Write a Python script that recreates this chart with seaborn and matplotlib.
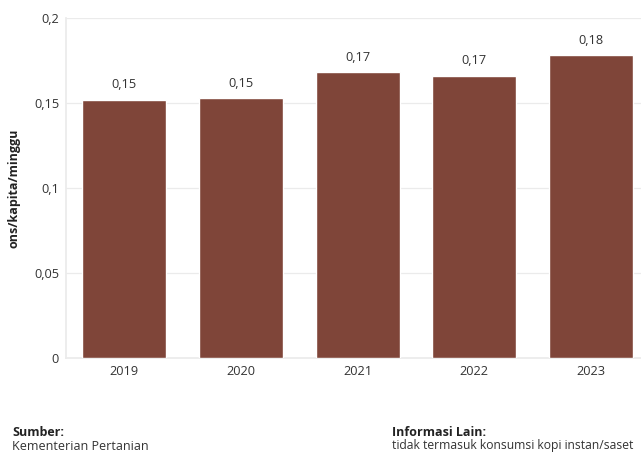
import matplotlib
matplotlib.use("Agg")
import matplotlib.pyplot as plt
import seaborn as sns
import pandas as pd

years = ["2019", "2020", "2021", "2022", "2023"]
values = [0.152, 0.153, 0.168, 0.166, 0.178]
labels = ["0,15", "0,15", "0,17", "0,17", "0,18"]
yticks = [0, 0.05, 0.1, 0.15, 0.2]
ytick_labels = ["0", "0,05", "0,1", "0,15", "0,2"]

sns.set_theme(style="white")
plt.rcParams["font.family"] = ["Open Sans", "DejaVu Sans"]

df = pd.DataFrame({"tahun": years, "nilai": values})

fig = plt.figure(figsize=(6.41, 4.55), dpi=100)
ax = fig.add_axes([66/641, 1 - 358/455, (641-66)/641, (358-18)/455])
sns.barplot(data=df, x="tahun", y="nilai", color="#7F4539", width=0.72,
            saturation=1, ax=ax, zorder=3)
ax.set_xlim(-0.5, 4.43)
ax.set_ylim(0, 0.2)
ax.set_yticks(yticks)
ax.set_yticklabels(ytick_labels)
ax.yaxis.grid(True, color="#EBEBEB", linewidth=0.9, zorder=0)
for s in ["top", "right"]:
    ax.spines[s].set_visible(False)
ax.spines["left"].set_color("#EBEBEB")
ax.spines["bottom"].set_color("#EBEBEB")
ax.tick_params(axis="both", length=0, labelsize=9.2, colors="#333333", pad=5)
ax.set_xlabel("")
ax.set_ylabel("ons/kapita/minggu", fontsize=9, fontweight="bold", color="#222222", labelpad=10)

for i, (v, lab) in enumerate(zip(values, labels)):
    ax.annotate(lab, (i, v), xytext=(0, 6), textcoords="offset points",
                ha="center", va="bottom", fontsize=9.2, color="#333333")

fig.text(12/641, 1 - 432/455, "Sumber:", fontsize=9, fontweight="bold", color="#222222", va="center")
fig.text(12/641, 1 - 446/455, "Kementerian Pertanian", fontsize=9, color="#333333", va="center")
fig.text(392/641, 1 - 432/455, "Informasi Lain:", fontsize=9, fontweight="bold", color="#222222", va="center")
fig.text(392/641, 1 - 446/455, "tidak termasuk konsumsi kopi instan/saset", fontsize=8.7, color="#333333", va="center")

fig.savefig("out.png", dpi=100)
